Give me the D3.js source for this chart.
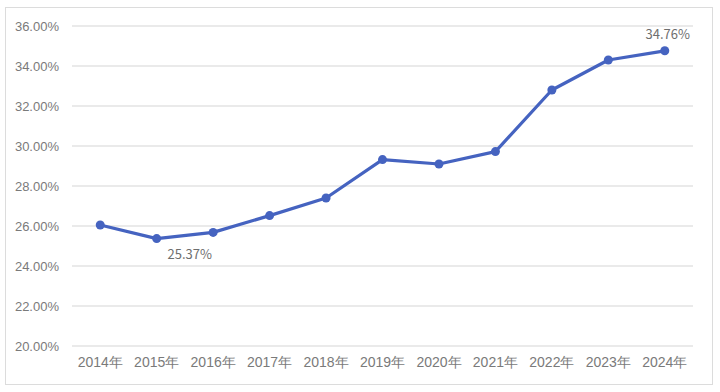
<!DOCTYPE html>
<html>
<head>
  <meta charset="utf-8">
  <script src="https://d3js.org/d3.v7.min.js"></script>
  <style>
  body {
    margin: 0;
    background: #fff;
    font-family: "Noto Sans CJK SC", "Liberation Sans", sans-serif;
  }
  .axis text {
    fill: #7a7a7a;
  }
  .y.axis text {
    font-size: 13px;
  }
  .x.axis text {
    font-size: 14px;
  }
  .grid line {
    stroke: #e3e3e3;
    stroke-width: 1.5;
  }
  </style>
</head>
<body>
<script>

  var years = ["2014年", "2015年", "2016年", "2017年", "2018年", "2019年",
               "2020年", "2021年", "2022年", "2023年", "2024年"];
  var rates = [26.05, 25.37, 25.68, 26.52, 27.4, 29.32, 29.1, 29.72, 32.8, 34.3, 34.76];
  var yTicks = [20, 22, 24, 26, 28, 30, 32, 34, 36];
  var labelled = [{i: 1, dx: 33, dy: 17}, {i: 10, dx: 3, dy: -15}];

  var W = 720, H = 392;
  var margin = {top: 26, right: 27, bottom: 46, left: 72},
    width = W - margin.left - margin.right,
    height = H - margin.top - margin.bottom;

  var svg = d3.select("body").append("svg")
    .attr("width", W)
    .attr("height", H);

  // outer frame
  svg.append("rect")
    .attr("x", 5.5).attr("y", 7.5)
    .attr("width", 707).attr("height", 377)
    .attr("fill", "none")
    .attr("stroke", "#dcdcdc");

  var g = svg.append("g")
    .attr("transform", "translate(" + margin.left + "," + margin.top + ")");

  var x = d3.scaleBand().domain(years).range([0, width]);
  var y = d3.scaleLinear().domain([20, 36]).range([height, 0]);

  g.append("g")
    .attr("class", "grid")
    .selectAll("line")
    .data(yTicks)
    .enter().append("line")
    .attr("x1", 0).attr("x2", width)
    .attr("y1", d => y(d)).attr("y2", d => y(d));

  var yAxis = g.append("g")
    .attr("class", "y axis")
    .call(d3.axisLeft(y).tickValues(yTicks).tickSize(0).tickPadding(13)
      .tickFormat(d => d.toFixed(2) + "%"));
  yAxis.select(".domain").remove();

  var xAxis = g.append("g")
    .attr("class", "x axis")
    .attr("transform", "translate(0," + height + ")")
    .call(d3.axisBottom(x).tickSize(0).tickPadding(11));
  xAxis.select(".domain").remove();

  var line = d3.line()
    .x((d, i) => x(years[i]) + x.bandwidth() / 2)
    .y(d => y(d));

  g.append("path")
    .datum(rates)
    .attr("fill", "none")
    .attr("stroke", "#4563c0")
    .attr("stroke-width", 3.2)
    .attr("stroke-linejoin", "round")
    .attr("d", line);

  g.selectAll(".dot")
    .data(rates)
    .enter().append("circle")
    .attr("class", "dot")
    .attr("cx", (d, i) => x(years[i]) + x.bandwidth() / 2)
    .attr("cy", d => y(d))
    .attr("r", 4.5)
    .attr("fill", "#4563c0");

  g.selectAll(".lbl")
    .data(labelled)
    .enter().append("text")
    .attr("class", "lbl")
    .attr("x", d => x(years[d.i]) + x.bandwidth() / 2 + d.dx)
    .attr("y", d => y(rates[d.i]) + d.dy)
    .attr("text-anchor", "middle")
    .attr("dominant-baseline", "middle")
    .attr("fill", "#6e6e6e")
    .style("font-size", "13px")
    .text(d => rates[d.i].toFixed(2) + "%");

</script>
</body>
</html>
